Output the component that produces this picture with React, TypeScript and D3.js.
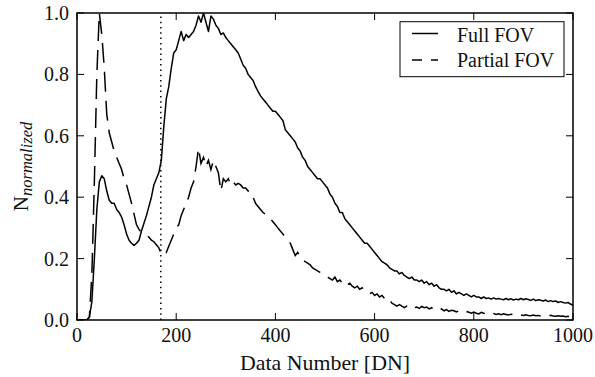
import React from "react";
import * as d3 from "d3";

const DN_STEP = 5;
const DN_MAX = 1000;
const THRESHOLD_DN = 169;

const fullFOV: number[] = [
  0, 0, 0, 0, 0, 0.01, 0.06, 0.2, 0.36, 0.45,
  0.47, 0.46, 0.42, 0.39, 0.38, 0.38, 0.36, 0.35, 0.335, 0.31,
  0.28, 0.26, 0.25, 0.243, 0.25, 0.26, 0.29, 0.315, 0.34, 0.37,
  0.40, 0.44, 0.46, 0.48, 0.52, 0.63, 0.72, 0.76, 0.82, 0.87,
  0.88, 0.91, 0.94, 0.91, 0.93, 0.92, 0.93, 0.94, 0.96, 0.99,
  0.97, 1.0, 0.97, 0.94, 0.99, 0.98, 0.96, 0.95, 0.93, 0.935,
  0.92, 0.91, 0.90, 0.89, 0.88, 0.87, 0.85, 0.83, 0.82, 0.80,
  0.79, 0.78, 0.76, 0.745, 0.73, 0.72, 0.71, 0.70, 0.69, 0.68,
  0.68, 0.67, 0.66, 0.65, 0.62, 0.61, 0.60, 0.59, 0.58, 0.56,
  0.55, 0.53, 0.52, 0.50, 0.49, 0.48, 0.47, 0.46, 0.46, 0.45,
  0.44, 0.43, 0.41, 0.40, 0.38, 0.37, 0.35, 0.35, 0.33, 0.32,
  0.31, 0.30, 0.29, 0.28, 0.27, 0.26, 0.25, 0.25, 0.24, 0.23,
  0.22, 0.21, 0.20, 0.19, 0.185, 0.18, 0.17, 0.165, 0.16, 0.16,
  0.15, 0.155, 0.145, 0.14, 0.135, 0.14, 0.13, 0.13, 0.125, 0.13,
  0.12, 0.125, 0.115, 0.12, 0.11, 0.115, 0.105, 0.10, 0.10, 0.095,
  0.10, 0.09, 0.095, 0.085, 0.09, 0.085, 0.08, 0.085, 0.08, 0.075,
  0.08, 0.075, 0.075, 0.07, 0.075, 0.07, 0.072, 0.068, 0.072, 0.068,
  0.07, 0.068, 0.066, 0.07, 0.066, 0.069, 0.065, 0.068, 0.066, 0.07,
  0.066, 0.069, 0.067, 0.064, 0.068, 0.063, 0.066, 0.064, 0.062, 0.065,
  0.06, 0.063, 0.06, 0.062, 0.057, 0.06, 0.057, 0.055, 0.057, 0.052,
  0.048,
];

const partialFOV: number[] = [
  0, 0, 0, 0, 0, 0.01, 0.15, 0.45, 0.8, 1.0,
  0.93, 0.82, 0.67, 0.61, 0.58, 0.55, 0.53, 0.51, 0.49, 0.46,
  0.44, 0.41, 0.38, 0.345, 0.31, 0.295, 0.285, 0.28, 0.275, 0.27,
  0.26, 0.255, 0.245, 0.235, 0.215, 0.225, 0.22, 0.24, 0.26, 0.28,
  0.30, 0.31, 0.34, 0.36, 0.38, 0.40, 0.43, 0.45, 0.50, 0.56,
  0.51, 0.53, 0.50, 0.52, 0.49, 0.52, 0.50, 0.48, 0.42, 0.46,
  0.45, 0.46, 0.44, 0.45, 0.44, 0.445, 0.44, 0.43, 0.43, 0.42,
  0.42, 0.40, 0.38, 0.37, 0.36, 0.35, 0.345, 0.34, 0.33, 0.32,
  0.31, 0.30, 0.29, 0.28, 0.27, 0.26, 0.25, 0.23, 0.21, 0.22,
  0.205, 0.195, 0.19, 0.185, 0.18, 0.17, 0.165, 0.16, 0.155, 0.15,
  0.145, 0.14, 0.135, 0.13, 0.14, 0.125, 0.13, 0.12, 0.125, 0.115,
  0.12, 0.11, 0.105, 0.11, 0.10, 0.105, 0.095, 0.09, 0.085, 0.09,
  0.08, 0.085, 0.075, 0.08, 0.07, 0.06, 0.065, 0.055, 0.05, 0.045,
  0.05, 0.045, 0.04, 0.045, 0.04, 0.045, 0.04, 0.042, 0.038, 0.044,
  0.04, 0.042, 0.036, 0.04, 0.035, 0.038, 0.033, 0.036, 0.03, 0.034,
  0.028, 0.032, 0.03, 0.026, 0.03, 0.027, 0.024, 0.028, 0.025, 0.022,
  0.026, 0.022, 0.02, 0.025, 0.022, 0.02, 0.023, 0.019, 0.021, 0.018,
  0.02, 0.017, 0.02, 0.018, 0.016, 0.019, 0.017, 0.015, 0.018, 0.016,
  0.015, 0.017, 0.015, 0.014, 0.016, 0.014, 0.015, 0.013, 0.015, 0.014,
  0.013, 0.015, 0.013, 0.012, 0.014, 0.012, 0.013, 0.011, 0.012, 0.01,
  0.012,
];

const xTicks = [0, 200, 400, 600, 800, 1000];
const yTicks = [0.0, 0.2, 0.4, 0.6, 0.8, 1.0];
const seriesNames = ["Full FOV", "Partial FOV"];

const W = 595;
const H = 377;
const M = { left: 77, top: 13, right: 22, bottom: 57 };
const TS: React.CSSProperties = { fontFamily: '"Liberation Serif"' };
const TXT = "#111";

export default function App() {
  const x = d3.scaleLinear().domain([0, DN_MAX]).range([M.left, W - M.right]);
  const y = d3.scaleLinear().domain([0, 1]).range([H - M.bottom, M.top]);
  const line = d3
    .line<number>()
    .x((_, i) => x(i * DN_STEP))
    .y((d) => y(d));
  const x0 = x(0), x1 = x(DN_MAX), y0 = y(0), y1 = y(1);
  const tl = 7;

  return (
    <svg width={W} height={H} style={{ position: "absolute", left: 0, top: 0, background: "#fff" }}>
      <defs>
        <clipPath id="plotclip">
          <rect x={x0} y={y1} width={x1 - x0} height={y0 - y1} />
        </clipPath>
      </defs>
      <g clipPath="url(#plotclip)">
        <line
          x1={x(THRESHOLD_DN)}
          x2={x(THRESHOLD_DN)}
          y1={y0}
          y2={y1}
          stroke="#000"
          strokeWidth={1.5}
          strokeDasharray="1.5,3.8"
        />
        <path d={line(fullFOV) || ""} fill="none" stroke="#000" strokeWidth={1.5} strokeLinejoin="round" />
        <path
          d={line(partialFOV) || ""}
          fill="none"
          stroke="#000"
          strokeWidth={1.5}
          strokeDasharray="20,9"
        />
      </g>
      {xTicks.map((t) => (
        <g key={"xt" + t}>
          <line x1={x(t)} x2={x(t)} y1={y0} y2={y0 - tl} stroke="#000" strokeWidth={1} />
          <line x1={x(t)} x2={x(t)} y1={y1} y2={y1 + tl} stroke="#000" strokeWidth={1} />
          <text x={x(t)} y={342} textAnchor="middle" fontSize={20} fill={TXT} style={TS}>
            {t}
          </text>
        </g>
      ))}
      {yTicks.map((t) => (
        <g key={"yt" + t}>
          <line x1={x0} x2={x0 + tl} y1={y(t)} y2={y(t)} stroke="#000" strokeWidth={1} />
          <line x1={x1} x2={x1 - tl} y1={y(t)} y2={y(t)} stroke="#000" strokeWidth={1} />
          <text x={69} y={y(t) + 7} textAnchor="end" fontSize={20} fill={TXT} style={TS}>
            {t.toFixed(1)}
          </text>
        </g>
      ))}
      <rect x={x0} y={y1} width={x1 - x0} height={y0 - y1} fill="none" stroke="#000" strokeWidth={1.5} />
      <text
        x={(x0 + x1) / 2}
        y={370}
        textAnchor="middle"
        fontSize={21}
        fill={TXT}
        style={TS}
        textLength={170}
        lengthAdjust="spacingAndGlyphs"
      >
        Data Number [DN]
      </text>
      <text
        transform={`translate(28,${(y0 + y1) / 2}) rotate(-90)`}
        textAnchor="middle"
        fill={TXT}
        style={TS}
      >
        <tspan fontSize={21} style={TS}>N</tspan>
        <tspan fontSize={16.5} fontStyle="italic" dy={4} style={TS}>
          normalized
        </tspan>
      </text>
      <g>
        <rect x={400} y={21.7} width={164} height={55} fill="#fff" stroke="#000" strokeWidth={1} />
        <line x1={412} x2={438} y1={33.5} y2={33.5} stroke="#000" strokeWidth={1.5} />
        <line x1={412} x2={438} y1={60} y2={60} stroke="#000" strokeWidth={1.5} strokeDasharray="10,9" />
        <text x={457} y={41.5} fontSize={20} fill={TXT} style={TS}>
          {seriesNames[0]}
        </text>
        <text x={457} y={67} fontSize={20} fill={TXT} style={TS}>
          {seriesNames[1]}
        </text>
      </g>
    </svg>
  );
}
